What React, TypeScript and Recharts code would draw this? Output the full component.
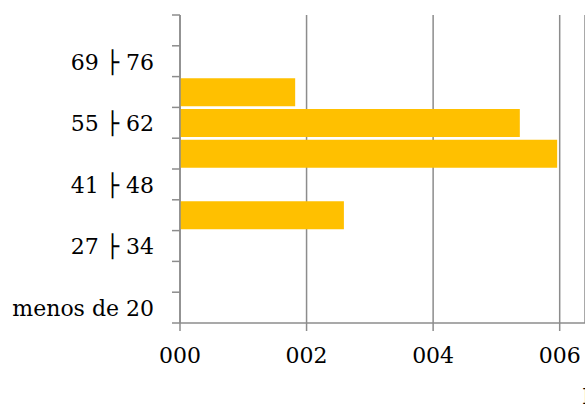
import React from 'react';
import { Bar, BarChart, CartesianGrid, XAxis, YAxis } from 'recharts';

// age classes, top to bottom as drawn
const categories = [
  '76 ├ 83',
  '69 ├ 76',
  '62 ├ 69',
  '55 ├ 62',
  '48 ├ 55',
  '41 ├ 48',
  '34 ├ 41',
  '27 ├ 34',
  '20 ├ 27',
  'menos de 20',
];
const values = [0, 0, 1.82, 5.37, 5.96, 0, 2.59, 0, 0, 0];
const shownLabels = ['69 ├ 76', '55 ├ 62', '41 ├ 48', '27 ├ 34', 'menos de 20'];
const xTicks = [0, 2, 4, 6];

const data = categories.map((c, i) => ({ faixa: c, valor: values[i] }));

const FONT = '"DejaVu Serif", serif';
const AXIS = '#8c8c8c';

const AgeTick = (props: any) => {
  const { x, y, payload, index } = props;
  const half = payload.offset ?? 15.4;
  const x0 = x + 18;
  const x1 = x0 + 8;
  return (
    <g>
      <line x1={x0} x2={x1} y1={y + half} y2={y + half} stroke={AXIS} strokeWidth={1.5} />
      {index === 0 && (
        <line x1={x0} x2={x1} y1={y - half} y2={y - half} stroke={AXIS} strokeWidth={1.5} />
      )}
      {shownLabels.includes(payload.value) && (
        <text
          x={x}
          y={y}
          dy="0.38em"
          textAnchor="end"
          fill="#000"
          fontFamily={FONT}
          fontSize={22}
        >
          {payload.value}
        </text>
      )}
    </g>
  );
};

const App = () => {
  return (
    <div style={{ position: 'absolute', left: 0, top: 0, background: '#fff' }}>
      <BarChart
        width={585}
        height={405}
        data={data}
        layout="vertical"
        barCategoryGap="5%"
        margin={{ top: 15, right: 0, left: 0, bottom: 52 }}
      >
        <CartesianGrid horizontal={false} stroke={AXIS} strokeWidth={1.5} strokeDasharray="" />
        <XAxis
          type="number"
          domain={[0, 6.4]}
          ticks={xTicks}
          allowDataOverflow
          tickFormatter={(v: number) => String(v).padStart(3, '0')}
          tickSize={8}
          tickMargin={16}
          stroke={AXIS}
          axisLine={{ stroke: AXIS, strokeWidth: 1.5 }}
          tickLine={{ stroke: AXIS, strokeWidth: 1.5 }}
          tick={{ fill: '#000', fontFamily: FONT, fontSize: 22 }}
          label={() => (
            <text x={582} y={404} fill="#000" fontFamily={FONT} fontSize={22} textAnchor="start">
              Frequência
            </text>
          )}
        />
        <YAxis
          type="category"
          dataKey="faixa"
          width={180}
          interval={0}
          tickSize={8}
          tickMargin={18}
          tickLine={false}
          axisLine={{ stroke: AXIS, strokeWidth: 1.5 }}
          tick={<AgeTick />}
        />
        <Bar dataKey="valor" fill="#FFC000" isAnimationActive={false} />
      </BarChart>
    </div>
  );
};

export default App;
